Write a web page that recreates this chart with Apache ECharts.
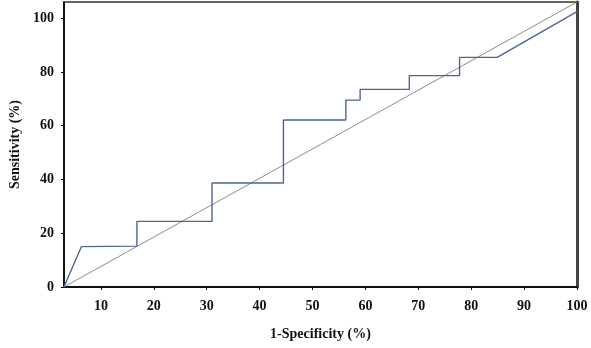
<!DOCTYPE html>
<html>
<head>
<meta charset="utf-8">
<script src="https://cdn.jsdelivr.net/npm/echarts@6/dist/echarts.min.js"></script>
<style>
  html, body { margin: 0; padding: 0; background: #fff; }
  #chart-container { width: 591px; height: 348px; }
</style>
</head>
<body>
<div id="chart-container"></div>
<script>
// ROC curve points: [1-specificity, sensitivity]
const rocX = [3, 6.3, 16.8, 16.8, 31.0, 31.0, 44.5, 44.5, 56.3, 56.3, 59.0, 59.0, 68.3, 68.3, 77.8, 77.8, 84.9, 100];
const rocY = [0, 15.0, 15.2, 24.4, 24.4, 38.7, 38.7, 62.1, 62.1, 69.5, 69.5, 73.5, 73.5, 78.6, 78.6, 85.4, 85.4, 102.4];
// reference (chance) line, corner to corner
const diagX = [3, 100];
const diagY = [0, 106];
const xTicks = [10, 20, 30, 40, 50, 60, 70, 80, 90, 100];
const yTicks = [0, 20, 40, 60, 80, 100];

const font = 'Liberation Serif';

const myChart = echarts.init(document.getElementById('chart-container'));
const option = {
  animation: false,
  grid: { left: 60, right: 14, top: 2, bottom: 61 },
  xAxis: [{
    type: 'value',
    min: 3,
    max: 100,
    name: '1-Specificity (%)',
    nameLocation: 'middle',
    nameGap: 40,
    nameTextStyle: { fontFamily: font, fontWeight: 'bold', fontSize: 14, color: '#111' },
    axisLine: { onZero: false, lineStyle: { color: '#111', width: 2 } },
    axisTick: { length: 3, lineStyle: { color: '#111' }, customValues: xTicks },
    axisLabel: { customValues: xTicks, margin: 12, fontFamily: font, fontWeight: 'bold', fontSize: 14, color: '#111' },
    splitLine: { show: false }
  }, {
    // top border of the frame
    type: 'value', position: 'top', min: 3, max: 100,
    axisLine: { onZero: false, lineStyle: { color: '#333', width: 1.5 } },
    axisTick: { show: false }, axisLabel: { show: false }, splitLine: { show: false }
  }],
  yAxis: [{
    type: 'value',
    min: 0,
    max: 106,
    name: 'Sensitivity (%)',
    nameLocation: 'middle',
    nameGap: 39,
    nameTextStyle: { fontFamily: font, fontWeight: 'bold', fontSize: 14, color: '#111' },
    axisLine: { show: true, onZero: false, lineStyle: { color: '#111', width: 2 } },
    axisTick: { show: true, length: 3, lineStyle: { color: '#111' }, customValues: yTicks },
    axisLabel: { customValues: yTicks, margin: 10, fontFamily: font, fontWeight: 'bold', fontSize: 14, color: '#111' },
    splitLine: { show: false }
  }, {
    // right border of the frame
    type: 'value', position: 'right', min: 0, max: 106,
    axisLine: { show: true, onZero: false, lineStyle: { color: '#444', width: 3 } },
    axisTick: { show: false }, axisLabel: { show: false }, splitLine: { show: false }
  }],
  series: [{
    name: 'Chance',
    type: 'line',
    data: diagX.map((x, i) => [x, diagY[i]]),
    symbol: 'none',
    lineStyle: { width: 1, color: '#8c8c8c' },
    z: 2
  }, {
    name: 'ROC',
    type: 'line',
    data: rocX.map((x, i) => [x, rocY[i]]),
    symbol: 'none',
    lineStyle: { width: 1.4, color: '#4d6699' },
    z: 3
  }]
};

myChart.setOption(option);
</script>
</body>
</html>
